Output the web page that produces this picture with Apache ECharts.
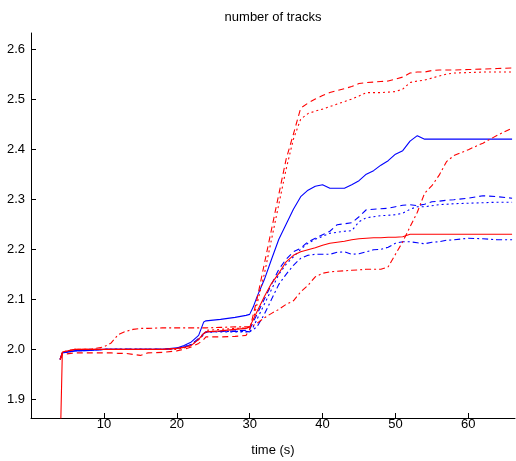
<!DOCTYPE html>
<html>
<head>
<meta charset="utf-8">
<script src="https://cdn.jsdelivr.net/npm/echarts@6/dist/echarts.min.js"></script>
<style>
  html, body { margin: 0; padding: 0; background: #fff; }
  #chart { width: 516px; height: 461px; }
</style>
</head>
<body>
<div id="chart"></div>
<script>
// sample times (s)
var times = [4, 4.3, 6, 8, 10, 11, 12, 13, 14, 15, 16, 18, 20, 21, 22, 23, 23.7, 24, 26, 28, 29.5,
  30, 30.5, 31, 32, 33, 34, 35, 36, 37, 38, 39, 40, 41, 42, 43, 44, 45, 46, 47, 48, 49, 50,
  51, 52, 53, 54, 55, 56, 57, 58, 60, 62, 64, 66];

var redSolid = [1.80, 1.995, 2.0, 2.0, 2.0, 2.0, 2.0, 2.0, 2.0, 2.0, 2.0, 2.0, 2.002, 2.004, 2.008, 2.02, 2.032, 2.035, 2.037, 2.04, 2.042,
  2.045, 2.06, 2.075, 2.105, 2.132, 2.152, 2.175, 2.188, 2.195, 2.199, 2.203, 2.208, 2.212, 2.214, 2.216, 2.219, 2.221, 2.222, 2.223, 2.223, 2.224, 2.224,
  2.225, 2.23, 2.23, 2.23, 2.23, 2.23, 2.23, 2.23, 2.23, 2.23, 2.23, 2.23];
var redDash = [1.98, 1.99, 1.993, 1.993, 1.993, 1.993, 1.992, 1.992, 1.99, 1.988, 1.993, 1.994, 1.997, 2.0, 2.005, 2.012, 2.02, 2.025, 2.025, 2.026, 2.028,
  2.04, 2.07, 2.10, 2.17, 2.24, 2.31, 2.38, 2.43, 2.482, 2.492, 2.5, 2.507, 2.513, 2.517, 2.521, 2.525, 2.531, 2.533, 2.534, 2.535, 2.536, 2.54,
  2.544, 2.552, 2.554, 2.554, 2.557, 2.558, 2.558, 2.558, 2.559, 2.56, 2.561, 2.562];
var redDot = [1.98, 1.995, 2.0, 2.0, 2.0, 2.0, 2.0, 2.0, 2.0, 2.0, 2.0, 2.0, 2.0, 2.003, 2.008, 2.02, 2.03, 2.038, 2.04, 2.042, 2.043,
  2.045, 2.06, 2.09, 2.15, 2.22, 2.29, 2.36, 2.42, 2.46, 2.471, 2.476, 2.48, 2.485, 2.49, 2.495, 2.5, 2.506, 2.513, 2.513, 2.513, 2.514, 2.515,
  2.52, 2.533, 2.536, 2.538, 2.542, 2.546, 2.55, 2.552, 2.553, 2.554, 2.554, 2.554];
var redDashDot = [1.98, 1.995, 2.0, 2.0, 2.005, 2.013, 2.03, 2.036, 2.04, 2.042, 2.042, 2.043, 2.043, 2.043, 2.043, 2.043, 2.043, 2.043, 2.044, 2.045, 2.045,
  2.045, 2.048, 2.052, 2.063, 2.072, 2.08, 2.09, 2.097, 2.115, 2.128, 2.145, 2.152, 2.155, 2.156, 2.157, 2.158, 2.159, 2.16, 2.16, 2.16, 2.165, 2.19,
  2.215, 2.245, 2.274, 2.312, 2.327, 2.348, 2.375, 2.387, 2.399, 2.412, 2.428, 2.442];

var blueSolid = [1.98, 1.993, 1.997, 1.998, 2.0, 2.0, 2.0, 2.0, 2.0, 2.0, 2.0, 2.0, 2.003, 2.008, 2.015, 2.028, 2.055, 2.057, 2.06, 2.064, 2.068,
  2.07, 2.085, 2.105, 2.139, 2.18, 2.22, 2.25, 2.28, 2.305, 2.318, 2.326, 2.329, 2.322, 2.322, 2.322, 2.329, 2.337, 2.35, 2.357, 2.368, 2.377, 2.39,
  2.397, 2.416, 2.427, 2.42, 2.42, 2.42, 2.42, 2.42, 2.42, 2.42, 2.42, 2.42];
var blueDash = [1.98, 1.993, 1.998, 2.0, 2.0, 2.0, 2.0, 2.0, 2.0, 2.0, 2.0, 2.0, 2.002, 2.005, 2.01, 2.022, 2.032, 2.035, 2.036, 2.037, 2.038,
  2.04, 2.055, 2.07, 2.1, 2.13, 2.16, 2.18, 2.195, 2.202, 2.215, 2.222, 2.229, 2.236, 2.249, 2.251, 2.253, 2.265, 2.279, 2.28, 2.281, 2.282, 2.285,
  2.288, 2.289, 2.287, 2.29, 2.295, 2.296, 2.298, 2.299, 2.302, 2.307, 2.305, 2.302];
var blueDot = [1.98, 1.993, 1.997, 1.998, 2.0, 2.0, 2.0, 2.0, 2.0, 2.0, 2.0, 2.0, 2.002, 2.005, 2.01, 2.02, 2.03, 2.034, 2.035, 2.035, 2.035,
  2.035, 2.045, 2.06, 2.09, 2.12, 2.15, 2.17, 2.185, 2.2, 2.212, 2.22, 2.226, 2.232, 2.234, 2.236, 2.237, 2.255, 2.263, 2.265, 2.267, 2.268, 2.269,
  2.272, 2.28, 2.285, 2.285, 2.287, 2.289, 2.29, 2.291, 2.292, 2.293, 2.294, 2.294];
var blueDashDot = [1.98, 1.993, 1.997, 1.998, 2.0, 2.0, 2.0, 2.0, 2.0, 2.0, 2.0, 2.0, 2.002, 2.005, 2.01, 2.02, 2.03, 2.035, 2.036, 2.036, 2.036,
  2.035, 2.04, 2.045, 2.07, 2.1, 2.13, 2.15, 2.168, 2.182, 2.188, 2.19, 2.19, 2.19, 2.194, 2.195, 2.19, 2.191, 2.195, 2.199, 2.2, 2.204, 2.212,
  2.215, 2.215, 2.213, 2.211, 2.214, 2.215, 2.218, 2.219, 2.222, 2.221, 2.219, 2.219];

var xTicks = [10, 20, 30, 40, 50, 60];
var yTicks = [1.9, 2.0, 2.1, 2.2, 2.3, 2.4, 2.5, 2.6];

var font = 'Liberation Sans, Arial, sans-serif';

function pairs(vals) {
  return times.map(function (t, i) { return [t, vals[i]]; });
}

function line(name, vals, color, dash) {
  return {
    name: name,
    type: 'line',
    data: pairs(vals),
    showSymbol: false,
    symbol: 'none',
    clip: true,
    lineStyle: { color: color, width: 1.1, type: dash },
    emphasis: { disabled: true }
  };
}

var chart = echarts.init(document.getElementById('chart'));
var option = {
  animation: false,
  backgroundColor: '#fff',
  grid: { left: 31, top: 33, right: 1, bottom: 43 },
  graphic: [
    {
      type: 'text', x: 273, y: 17,
      style: { text: 'number of tracks', fill: '#000', font: '13px ' + font, textAlign: 'center', textVerticalAlign: 'middle' }
    },
    {
      type: 'text', x: 273, y: 450,
      style: { text: 'time (s)', fill: '#000', font: '13px ' + font, textAlign: 'center', textVerticalAlign: 'middle' }
    }
  ],
  xAxis: {
    type: 'value',
    min: 0,
    max: 66.4,
    splitLine: { show: false },
    axisLine: { onZero: false, lineStyle: { color: '#000', width: 1 } },
    axisTick: { inside: true, length: 5, lineStyle: { color: '#000' }, customValues: xTicks },
    axisLabel: { color: '#000', fontSize: 13, fontFamily: font, margin: 0, customValues: xTicks }
  },
  yAxis: {
    type: 'value',
    min: 1.863,
    max: 2.632,
    splitLine: { show: false },
    axisLine: { onZero: false, lineStyle: { color: '#000', width: 1 } },
    axisTick: { inside: true, length: 5, lineStyle: { color: '#000' }, customValues: yTicks },
    axisLabel: {
      color: '#000', fontSize: 13, fontFamily: font, margin: 6, customValues: yTicks,
      formatter: function (v) { return v.toFixed(1); }
    }
  },
  series: [
    line('blue solid', blueSolid, '#0000ff', 'solid'),
    line('blue dashed', blueDash, '#0000ff', [6, 4]),
    line('blue dotted', blueDot, '#0000ff', [2, 3]),
    line('blue dash-dot', blueDashDot, '#0000ff', [6, 3, 2, 3]),
    line('red dashed', redDash, '#ff0000', [6, 4]),
    line('red dotted', redDot, '#ff0000', [2, 3]),
    line('red dash-dot', redDashDot, '#ff0000', [6, 3, 2, 3]),
    line('red solid', redSolid, '#ff0000', 'solid')
  ]
};
chart.setOption(option);
</script>
</body>
</html>
